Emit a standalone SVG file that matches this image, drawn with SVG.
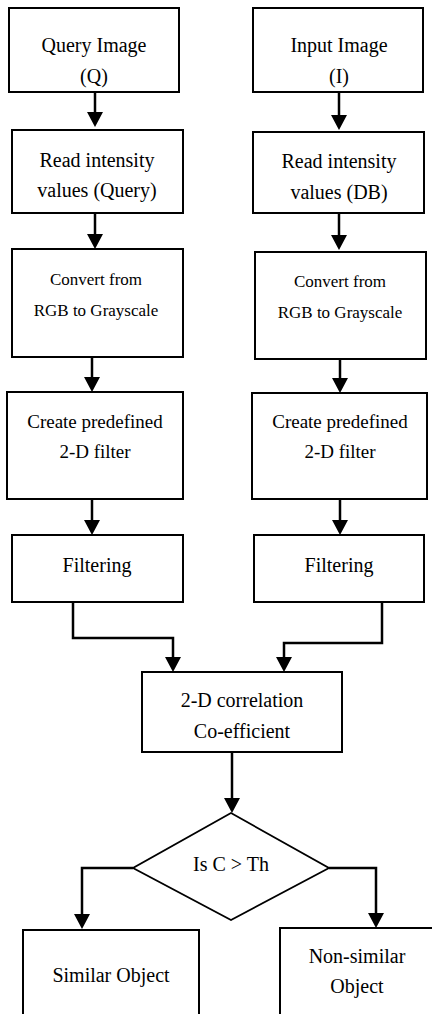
<svg xmlns="http://www.w3.org/2000/svg" width="432" height="1014" viewBox="0 0 432 1014">
  <style>
    .box { fill: #fff; stroke: #000; stroke-width: 2; }
    .dia { fill: #fff; stroke: #000; stroke-width: 1.8; }
    .lbl { font-family: "Liberation Serif", "Times New Roman", serif; font-size: 20px; fill: #000; text-anchor: middle; }
    .sm { font-size: 17px; }
    .md { font-size: 19px; }
    .wire { fill: none; stroke: #000; stroke-width: 2.5; marker-end: url(#head); }
    .wire-plain { fill: none; stroke: #000; stroke-width: 2.5; }
  </style>
  <defs>
    <marker id="head" markerUnits="userSpaceOnUse" viewBox="0 0 15 16" markerWidth="15" markerHeight="16" refX="5" refY="8" orient="auto">
      <path d="M0,0 L15,8 L0,16 z" fill="#000"/>
    </marker>
  </defs>
  <rect width="432" height="1014" fill="#fff"/>

  <!-- connectors -->
  <g id="connectors">
    <!-- left column -->
    <path class="wire" d="M95,92 V117"/>
    <path class="wire" d="M95,213 V239"/>
    <path class="wire" d="M92,357 V382"/>
    <path class="wire" d="M92,499 V525"/>
    <!-- right column -->
    <path class="wire" d="M339,92 V120"/>
    <path class="wire" d="M339,213 V240"/>
    <path class="wire" d="M340,359 V383"/>
    <path class="wire" d="M340,499 V525"/>
    <!-- merge into correlation -->
    <path class="wire" d="M73,602 V638 H173 V662"/>
    <path class="wire" d="M382,602 V643 H284 V662"/>
    <!-- correlation to decision -->
    <path class="wire" d="M232,752 V803"/>
    <!-- decision branches -->
    <path class="wire" d="M133,868 H82 V919"/>
    <path class="wire" d="M329,868 H376 V918"/>
  </g>

  <g id="query-image">
    <rect class="box" x="9" y="8" width="170" height="84"/>
    <text class="lbl" x="94" y="52">Query Image</text>
    <text class="lbl" x="94" y="83">(Q)</text>
  </g>
  <g id="input-image">
    <rect class="box" x="253" y="8" width="170" height="84"/>
    <text class="lbl" x="339" y="52">Input Image</text>
    <text class="lbl" x="339" y="83">(I)</text>
  </g>

  <g id="read-query">
    <rect class="box" x="12" y="130" width="171" height="83"/>
    <text class="lbl" x="97" y="167">Read intensity</text>
    <text class="lbl" x="97" y="197">values (Query)</text>
  </g>
  <g id="read-db">
    <rect class="box" x="253" y="132" width="171" height="81"/>
    <text class="lbl" x="339" y="168">Read intensity</text>
    <text class="lbl" x="339" y="199">values (DB)</text>
  </g>

  <g id="gray-query">
    <rect class="box" x="12" y="249" width="171" height="108"/>
    <text class="lbl sm" x="96" y="285">Convert from</text>
    <text class="lbl sm" x="96" y="316">RGB to Grayscale</text>
  </g>
  <g id="gray-db">
    <rect class="box" x="255" y="252" width="171" height="107"/>
    <text class="lbl sm" x="340" y="287">Convert from</text>
    <text class="lbl sm" x="340" y="318">RGB to Grayscale</text>
  </g>

  <g id="filter-query">
    <rect class="box" x="7" y="392" width="176" height="107"/>
    <text class="lbl md" x="95" y="428">Create predefined</text>
    <text class="lbl md" x="95" y="458">2-D filter</text>
  </g>
  <g id="filter-db">
    <rect class="box" x="252" y="393" width="175" height="106"/>
    <text class="lbl md" x="340" y="428">Create predefined</text>
    <text class="lbl md" x="340" y="458">2-D filter</text>
  </g>

  <g id="filtering-query">
    <rect class="box" x="12" y="535" width="171" height="67"/>
    <text class="lbl" x="97" y="572">Filtering</text>
  </g>
  <g id="filtering-db">
    <rect class="box" x="254" y="535" width="170" height="67"/>
    <text class="lbl" x="339" y="572">Filtering</text>
  </g>

  <g id="correlation">
    <rect class="box" x="142" y="672" width="200" height="80"/>
    <text class="lbl" x="242" y="707">2-D correlation</text>
    <text class="lbl" x="242" y="738">Co-efficient</text>
  </g>

  <g id="decision">
    <polygon class="dia" points="231,813 329,868 231,920 133,868"/>
    <text class="lbl" x="231" y="871">Is C &gt; Th</text>
  </g>

  <g id="similar">
    <rect class="box" x="23" y="930" width="176" height="110"/>
    <text class="lbl" x="111" y="982">Similar Object</text>
  </g>
  <g id="non-similar">
    <rect class="box" x="280" y="928" width="170" height="110"/>
    <text class="lbl" x="357" y="963">Non-similar</text>
    <text class="lbl" x="357" y="993">Object</text>
  </g>
</svg>
